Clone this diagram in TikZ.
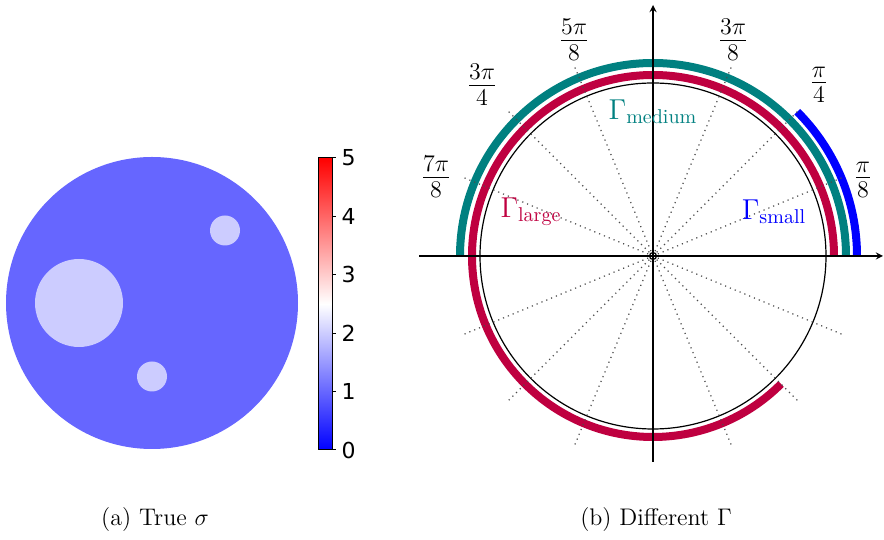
\documentclass[tikz,border=0pt]{standalone}
\usepackage{tikz}
\usepackage{xcolor}
\usepackage{fontspec}
\newfontfamily\cbfont{DejaVu Sans}
\usetikzlibrary{positioning,calc}
\definecolor{sigback}{RGB}{102,102,255}
\definecolor{sigincl}{RGB}{204,204,255}
\definecolor{gamlarge}{RGB}{191,0,64}
\definecolor{gammed}{RGB}{0,128,128}
\definecolor{gamsmall}{RGB}{0,0,255}

\begin{document}
\begin{tikzpicture}[
    x=0.5pt, y=0.5pt,
    axis/.style={->, >=stealth, line width=0.6pt},
    ray/.style={dotted, line width=0.6pt, black!70},
    garc/.style={line width=4pt},
    flab/.style={inner sep=0pt, font=\fontsize{17}{20}\selectfont},
    glab/.style={inner sep=0pt, font=\Large},
    tick/.style={anchor=west, inner sep=0pt, font=\cbfont\fontsize{11}{13}\selectfont},
    capt/.style={inner sep=0pt, font=\large}
]
\useasboundingbox (0,0) rectangle (884,540);

% True conductivity
\coordinate (C) at (152,237);
\fill[sigback] (C) circle[radius=146];
\fill[sigincl] (79,237) circle[radius=44];
\fill[sigincl] (225,309.5) circle[radius=15];
\fill[sigincl] (152,163.5) circle[radius=15];

% Colorbar
\shade[bottom color=blue, top color=red, middle color=white] (318,90) rectangle (332,382);
\draw[line width=0.5pt] (318,90) rectangle (332,382);
\draw[line width=0.5pt] (332,90) -- ++(4,0) node[tick, xshift=2.5pt] (t0) {0};
\draw[line width=0.5pt] (332,148.4) -- ++(4,0) node[tick, xshift=2.5pt] (t1) {1};
\draw[line width=0.5pt] (332,206.8) -- ++(4,0) node[tick, xshift=2.5pt] (t2) {2};
\draw[line width=0.5pt] (332,265.2) -- ++(4,0) node[tick, xshift=2.5pt] (t3) {3};
\draw[line width=0.5pt] (332,323.6) -- ++(4,0) node[tick, xshift=2.5pt] (t4) {4};
\draw[line width=0.5pt] (332,382) -- ++(4,0) node[tick, xshift=2.5pt] (t5) {5};

% Boundary parts
\coordinate (O) at (653,284);
\draw[garc, gamlarge] (O) ++(0:181) arc[start angle=0, end angle=315, radius=181];
\draw[garc, gammed] (O) ++(0:193) arc[start angle=0, end angle=180, radius=193];
\draw[garc, gamsmall] (O) ++(0:204) arc[start angle=0, end angle=45, radius=204];
\draw[line width=0.6pt] (O) circle[radius=173];

% Rays
\draw[ray] (O) -- ++(22.5:207);
\draw[ray] (O) -- ++(45:207);
\draw[ray] (O) -- ++(67.5:207);
\draw[ray] (O) -- ++(112.5:207);
\draw[ray] (O) -- ++(135:207);
\draw[ray] (O) -- ++(157.5:207);
\draw[ray] (O) -- ++(202.5:207);
\draw[ray] (O) -- ++(225:207);
\draw[ray] (O) -- ++(247.5:207);
\draw[ray] (O) -- ++(292.5:207);
\draw[ray] (O) -- ++(315:207);
\draw[ray] (O) -- ++(337.5:207);

% Axes
\draw[axis] (419,284) -- (883,284);
\draw[axis] (653,78) -- (653,535);
\draw[line width=0.6pt] (O) circle[radius=3.5];

% Angle labels
\node[flab] (a1) at ($(O)+(210,76)$) {$\frac{\pi}{8}$};
\node[flab] (a2) at ($(O)+(166,171)$) {$\frac{\pi}{4}$};
\node[flab] (a3) at ($(O)+(80,216)$) {$\frac{3\pi}{8}$};
\node[flab] (a5) at ($(O)+(-79,216)$) {$\frac{5\pi}{8}$};
\node[flab] (a6) at ($(O)+(-171,171)$) {$\frac{3\pi}{4}$};
\node[flab] (a7) at ($(O)+(-217,79)$) {$\frac{7\pi}{8}$};

% Gamma labels
\node[glab, text=gammed] (gmed) at ($(O)+(0,144)$) {$\Gamma_{\mathrm{medium}}$};
\node[glab, text=gamlarge] (glarge) at ($(O)+(-122,44)$) {$\Gamma_{\mathrm{large}}$};
\node[glab, text=gamsmall] (gsmall) at ($(O)+(121,44)$) {$\Gamma_{\mathrm{small}}$};

% Captions
\node[capt] (capa) at (155,20) {(a) True $\sigma$};
\node[capt] (capb) at (656,20) {(b) Different $\Gamma$};
\end{tikzpicture}
\end{document}
